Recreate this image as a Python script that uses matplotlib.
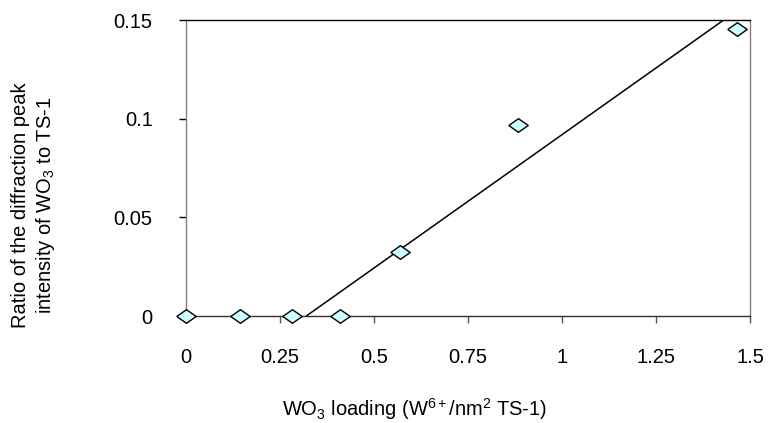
import matplotlib
matplotlib.use("Agg")
import matplotlib.pyplot as plt

plt.rcParams['font.family'] = ['Liberation Sans', 'DejaVu Sans']
plt.rcParams['mathtext.fontset'] = 'custom'
plt.rcParams['mathtext.rm'] = 'Liberation Sans'
plt.rcParams['mathtext.it'] = 'Liberation Sans'

# data
loading = [0.0, 0.144, 0.282, 0.41, 0.569, 0.884, 1.465]
ratio = [0.0, 0.0, 0.0, 0.0, 0.0325, 0.097, 0.1455]
trend_x = [0.32, 1.43]
trend_y = [0.0, 0.15]
xticks = [0, 0.25, 0.5, 0.75, 1, 1.25, 1.5]
xticklabels = ["0", "0.25", "0.5", "0.75", "1", "1.25", "1.5"]
yticks = [0, 0.05, 0.1, 0.15]
yticklabels = ["0", "0.05", "0.1", "0.15"]

fig = plt.figure(figsize=(7.7, 4.23), dpi=100)
ax = fig.add_axes([186/770, 1-316/423, (750-186)/770, (316-20)/423])

ax.plot(trend_x, trend_y, color='black', lw=1.1, zorder=2)
diamond = [(-1, 0), (0, 0.7), (1, 0), (0, -0.7), (-1, 0)]
ax.plot(loading, ratio, linestyle='none', marker=diamond, markersize=14,
        markerfacecolor='#CCFFFF', markeredgecolor='black', markeredgewidth=1.0,
        zorder=3, clip_on=False)

ax.set_xlim(0, 1.5)
ax.set_ylim(0, 0.15)
ax.set_xticks(xticks)
ax.set_xticklabels(xticklabels)
ax.set_yticks(yticks)
ax.set_yticklabels(yticklabels)

ax.tick_params(axis='x', direction='out', length=5, width=1, color='#555555',
               labelsize=14.5, pad=18)
ax.tick_params(axis='y', direction='out', length=5, width=1, color='black',
               labelsize=14.5, pad=19)

ax.spines['left'].set_color('#808080')
ax.spines['right'].set_color('#808080')
ax.spines['top'].set_color('black')
ax.spines['bottom'].set_color('#333333')
for s in ax.spines.values():
    s.set_linewidth(1.0)

ax.set_xlabel('WO$_3$ loading (W$^{6+}$/nm$^2$ TS-1)', fontsize=14.5)
ax.xaxis.set_label_coords(0.405, -0.27)
ax.set_ylabel('Ratio of the diffraction peak\nintensity of WO$_3$ to TS-1',
              fontsize=14.5, linespacing=1.25)
ax.yaxis.set_label_coords(-0.228, 0.375)

fig.savefig('out.png', dpi=100)
